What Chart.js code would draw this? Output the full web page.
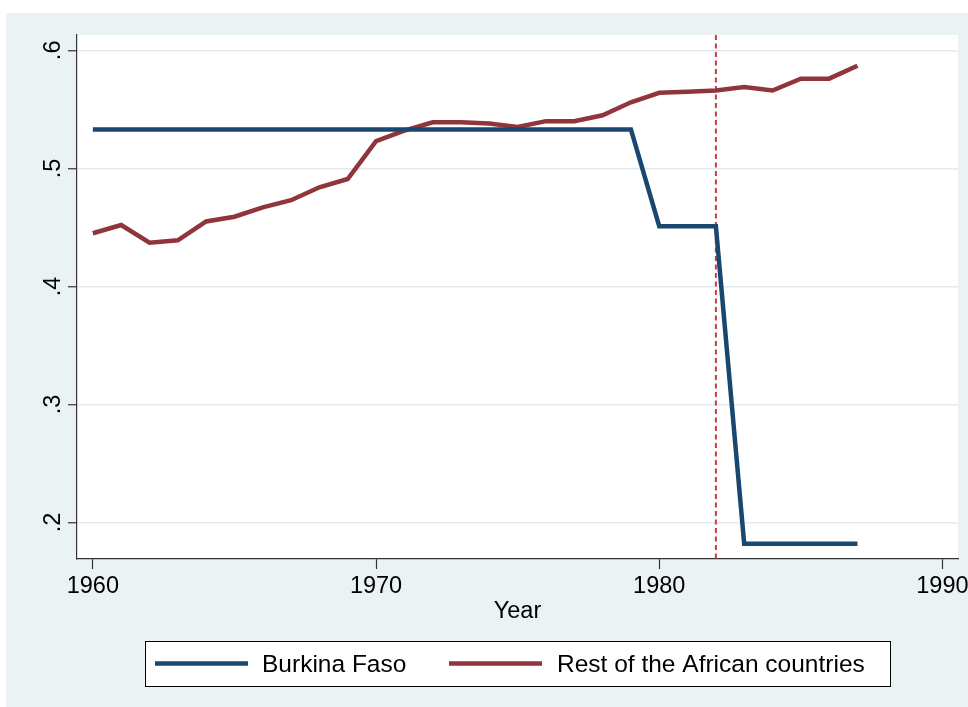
<!DOCTYPE html>
<html>
<head>
<meta charset="utf-8">
<script src="https://cdn.jsdelivr.net/npm/chart.js@4/dist/chart.umd.min.js"></script>
<style>
  html, body { margin: 0; padding: 0; background: #fff; }
  canvas { display: block; }
</style>
</head>
<body>
<canvas id="chart" width="968" height="707"></canvas>
<script>
// data
var years = [1960, 1961, 1962, 1963, 1964, 1965, 1966, 1967, 1968, 1969,
             1970, 1971, 1972, 1973, 1974, 1975, 1976, 1977, 1978, 1979,
             1980, 1981, 1982, 1983, 1984, 1985, 1986, 1987];
var burkinaFaso = [0.533, 0.533, 0.533, 0.533, 0.533, 0.533, 0.533, 0.533, 0.533, 0.533,
                   0.533, 0.533, 0.533, 0.533, 0.533, 0.533, 0.533, 0.533, 0.533, 0.533,
                   0.451, 0.451, 0.451, 0.182, 0.182, 0.182, 0.182, 0.182];
var restOfAfrica = [0.445, 0.452, 0.437, 0.439, 0.455, 0.459, 0.467, 0.473, 0.484, 0.491,
                    0.523, 0.532, 0.539, 0.539, 0.538, 0.535, 0.540, 0.540, 0.545, 0.556,
                    0.564, 0.565, 0.566, 0.569, 0.566, 0.576, 0.576, 0.587];
var seriesNames = ["Burkina Faso", "Rest of the African countries"];
var xTicks = [1960, 1970, 1980, 1990];
var yTicks = [0.2, 0.3, 0.4, 0.5, 0.6];
var markerYear = 1982;

var FONT = "'Liberation Sans', Arial, Helvetica, sans-serif";
var NAVY = "#1a476f";
var MAROON = "#90353b";
var AXIS = "#333333";

function toPoints(vals){
	var pts = [];
	for (var i = 0; i < years.length; i++){
		pts.push({x: years[i], y: vals[i]});
	}
	return pts;
}

// stata like ".6"
function fmtY(v){
	return v.toFixed(1).replace(/^0/, "");
}

// background, plot region, vertical line, y labels, legend
var stataPlugin = {
	id: "stata",
	beforeDraw: function(chart){
		var ctx = chart.ctx;
		var a = chart.chartArea;
		ctx.save();
		ctx.fillStyle = "#ffffff";
		ctx.fillRect(0, 0, chart.width, chart.height);
		ctx.fillStyle = "#eaf2f3";
		ctx.fillRect(6, 13, chart.width - 6, chart.height - 13);
		ctx.fillStyle = "#ffffff";
		ctx.fillRect(a.left, a.top, a.right - a.left, a.bottom - a.top);
		ctx.restore();
	},
	beforeDatasetsDraw: function(chart){
		var ctx = chart.ctx;
		var a = chart.chartArea;
		var x = chart.scales.x.getPixelForValue(markerYear);
		ctx.save();
		ctx.strokeStyle = "#d0384a";
		ctx.lineWidth = 2;
		ctx.setLineDash([5, 3.5]);
		ctx.beginPath();
		ctx.moveTo(x, a.top);
		ctx.lineTo(x, a.bottom);
		ctx.stroke();
		ctx.restore();
	},
	afterDraw: function(chart){
		var ctx = chart.ctx;
		var ys = chart.scales.y;
		ctx.save();
		ctx.fillStyle = "#000";
		ctx.font = "23.5px " + FONT;
		ctx.textAlign = "center";
		ctx.textBaseline = "alphabetic";
		for (var i = 0; i < yTicks.length; i++){
			var py = ys.getPixelForValue(yTicks[i]);
			ctx.save();
			ctx.translate(60, py);
			ctx.rotate(-Math.PI / 2);
			ctx.fillText(fmtY(yTicks[i]), 0, 0);
			ctx.restore();
		}
		// legend box
		ctx.fillStyle = "#ffffff";
		ctx.fillRect(145, 641, 745, 45);
		ctx.strokeStyle = "#000";
		ctx.lineWidth = 1;
		ctx.strokeRect(145.5, 641.5, 745, 45);
		var items = [{x: 155, tx: 262}, {x: 449, tx: 557}];
		ctx.font = "24.5px " + FONT;
		ctx.textAlign = "left";
		ctx.textBaseline = "middle";
		for (var j = 0; j < items.length; j++){
			var ds = chart.data.datasets[j];
			ctx.strokeStyle = ds.borderColor;
			ctx.lineWidth = ds.borderWidth;
			ctx.beginPath();
			ctx.moveTo(items[j].x, 663.5);
			ctx.lineTo(items[j].x + 93, 663.5);
			ctx.stroke();
			ctx.fillStyle = "#000";
			ctx.fillText(ds.label, items[j].tx, 665);
		}
		ctx.restore();
	}
};

var chart = new Chart(document.getElementById("chart").getContext("2d"), {
	type: "line",
	data: {
		datasets: [
			{
				label: seriesNames[0],
				data: toPoints(burkinaFaso),
				borderColor: NAVY,
				backgroundColor: NAVY,
				borderWidth: 4.5,
				pointRadius: 0,
				tension: 0,
				fill: false
			},
			{
				label: seriesNames[1],
				data: toPoints(restOfAfrica),
				borderColor: MAROON,
				backgroundColor: MAROON,
				borderWidth: 4.5,
				pointRadius: 0,
				tension: 0,
				fill: false
			}
		]
	},
	options: {
		responsive: false,
		animation: false,
		devicePixelRatio: 1,
		layout: { padding: { left: 67, top: 35, right: 10, bottom: 81 } },
		plugins: {
			legend: { display: false },
			tooltip: { enabled: false }
		},
		scales: {
			x: {
				type: "linear",
				min: 1959.44,
				max: 1990.55,
				afterBuildTicks: function(scale){
					scale.ticks = xTicks.map(function(v){ return {value: v}; });
				},
				afterFit: function(scale){
					scale.height = 67;
					scale.paddingLeft = 0;
					scale.paddingRight = 0;
				},
				grid: { drawOnChartArea: false, drawTicks: true, tickLength: 10, tickColor: AXIS, tickWidth: 1.2 },
				border: { display: true, color: AXIS, width: 1.2 },
				ticks: {
					color: "#000",
					padding: 3,
					maxRotation: 0,
					font: { family: FONT, size: 23.5 },
					callback: function(v){ return String(v); }
				},
				title: {
					display: true,
					text: "Year",
					color: "#000",
					padding: 0,
					font: { family: FONT, size: 23.5 }
				}
			},
			y: {
				type: "linear",
				min: 0.169,
				max: 0.613,
				afterBuildTicks: function(scale){
					scale.ticks = yTicks.map(function(v){ return {value: v}; });
				},
				afterFit: function(scale){
					scale.width = 10;
					scale.paddingTop = 0;
					scale.paddingBottom = 0;
				},
				grid: { color: "#e3ebee", lineWidth: 1.5, drawTicks: true, tickLength: 9, tickColor: AXIS, tickWidth: 1.2 },
				border: { display: true, color: AXIS, width: 1.2 },
				ticks: { display: false }
			}
		}
	},
	plugins: [stataPlugin]
});
</script>
</body>
</html>
